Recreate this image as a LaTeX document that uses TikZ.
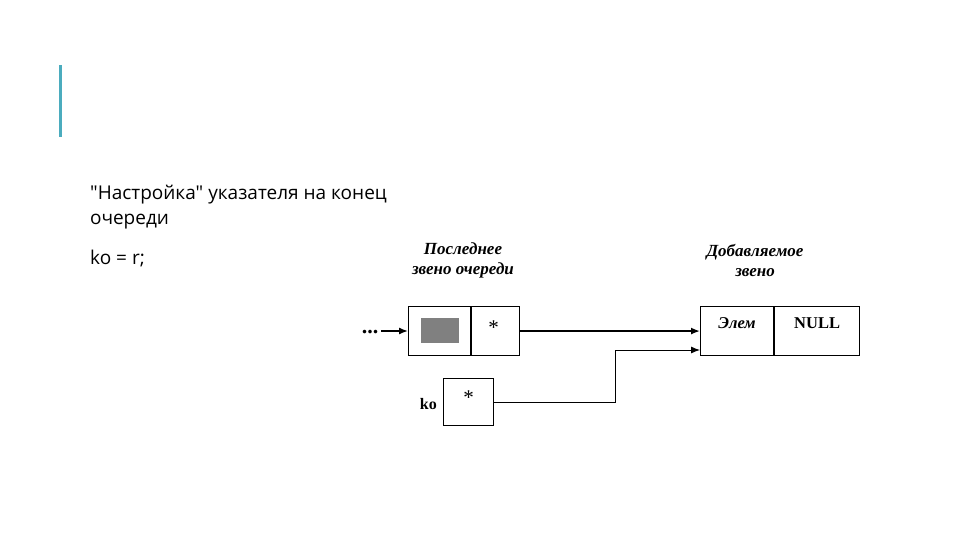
\documentclass[tikz,border=0pt]{standalone}
\usepackage{fontspec}
\setmainfont{Liberation Serif}
\newfontfamily\slidefont{Open Sans}
\usetikzlibrary{arrows.meta,positioning,calc}
\definecolor{accbar}  {RGB}{ 75,172,190}
\definecolor{datafill}{RGB}{128,128,128}
\tikzset{
  cell/.style  ={rectangle,draw,line width=1.1pt,inner sep=0pt,
                 anchor=north west},
  ctxt/.style  ={font=\fontsize{16}{18}\selectfont\bfseries,inner sep=0pt},
  star/.style  ={font=\fontsize{21}{22}\selectfont,inner sep=0pt},
  linkcap/.style={font=\fontsize{17}{20}\selectfont\bfseries\itshape,
                 align=center,inner sep=0pt},
  slide/.style ={font=\fontsize{19}{25}\selectfont\slidefont,
                 align=left,inner sep=0pt,anchor=north west},
  ptr/.style   ={-{Latex[length=9pt,width=7pt]}},
}

\begin{document}
\begin{tikzpicture}[x=1pt,y=-1pt]
  \useasboundingbox (0,0) rectangle (960,540);
  % accent bar and slide text
  \fill[accbar] (58.5,65) rectangle (61.5,137);
  \node[slide] (title) at (90,185)
       {"Настройка" указателя на конец\\очереди};
  \node[slide,below=21pt of title.south west,anchor=north west]
       (code) {ko = r;};
  % last link of the queue
  \node[cell,minimum width=62pt,minimum height=49pt]
       (lastdat) at (408,306) {};
  \node[cell,minimum width=48pt,minimum height=49pt]
       (lastptr) at (lastdat.north east) {};
  \node[fill=datafill,minimum width=38pt,minimum height=25pt,inner sep=0pt]
       (gray) at ($(lastdat.center)+(0,-0.5)$) {};
  \node[star] (star1) at ($(lastptr.center)+(-2,-3)$) {*};
  \node[linkcap] (lastcap) at (463,260) {Последнее\\звено очереди};
  \node[ctxt,font=\fontsize{22}{22}\selectfont\bfseries] (dots)
       at (370,332) {...};
  % pointer ko
  \node[cell,minimum width=50pt,minimum height=47pt]
       (kobox) at (443,378) {};
  \node[star] (star2) at ($(kobox.center)+(0,-4)$) {*};
  \node[ctxt,left=6pt of kobox.west,anchor=east,yshift=-2pt]
       (kolbl) {ko};
  % added link
  \node[cell,minimum width=73pt,minimum height=49pt]
       (newdat) at (700,306) {};
  \node[cell,minimum width=85pt,minimum height=49pt]
       (newnull) at (newdat.north east) {};
  \node[ctxt,font=\fontsize{16.5}{18}\selectfont\bfseries\itshape]
       (elem) at ($(newdat.center)+(0,-8)$) {Элем};
  \node[ctxt,font=\fontsize{16.5}{18}\selectfont\bfseries]
       (null) at ($(newnull.center)+(0,-8)$) {NULL};
  \node[linkcap] (newcap) at (755,260) {Добавляемое\\звено};
  % connectors
  \coordinate (din) at ($(dots.east)+(3,-1)$);
  \coordinate (turn) at (615,350);
  \draw[ptr,line width=1.4pt] (din) -- (din -| lastdat.west);
  \draw[ptr,line width=1.6pt] (lastptr.east) -- (lastptr.east -| newdat.west);
  \draw[ptr,line width=0.9pt] (kobox.east) -| (turn) -- (turn -| newdat.west);
\end{tikzpicture}
\end{document}
